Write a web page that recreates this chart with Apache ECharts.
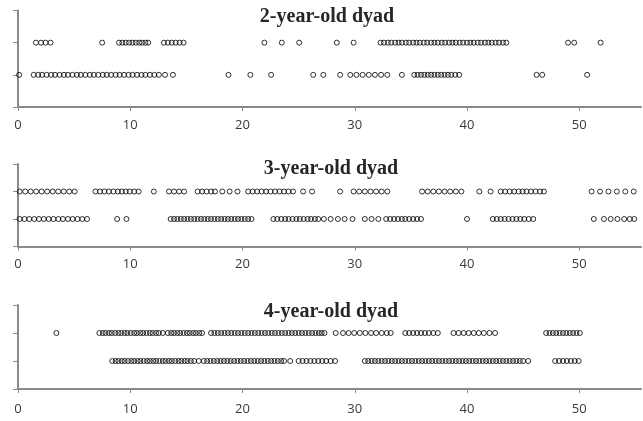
<!DOCTYPE html>
<html>
<head>
<meta charset="utf-8">
<script src="https://cdn.jsdelivr.net/npm/echarts@6/dist/echarts.min.js"></script>
<style>
html,body{margin:0;padding:0;background:#fff;}
#chart{width:643px;height:421px;}
</style>
</head>
<body>
<div id="chart"></div>
<script>
// Panel titles
const titles = ['2-year-old dyad', '3-year-old dyad', '4-year-old dyad'];
// X tick labels
const xTicks = [0, 10, 20, 30, 40, 50];

// 2-year-old dyad: upper row (y = 2) and lower row (y = 1)
const dyad2Upper = [1.6, 2.05, 2.45, 2.9, 7.5, 9.0, 9.3, 9.6, 9.9, 10.2, 10.5, 10.8, 11.05, 11.35, 11.6,
  13.0, 13.35, 13.7, 14.05, 14.4, 14.75, 21.95, 23.5, 25.05, 28.4, 29.9,
  32.3, 32.6, 32.95, 33.25, 33.6, 33.9, 34.2, 34.55, 34.85, 35.2, 35.5, 35.8, 36.15, 36.45, 36.8, 37.1,
  37.4, 37.75, 38.05, 38.4, 38.7, 39.0, 39.35, 39.65, 40.0, 40.3, 40.6, 40.95, 41.25, 41.6, 41.9, 42.2,
  42.55, 42.85, 43.2, 43.5, 49.0, 49.55, 51.9];
const dyad2Lower = [0.1, 1.4, 1.8, 2.15, 2.55, 2.95, 3.3, 3.7, 4.1, 4.45, 4.85, 5.25, 5.6, 6.0, 6.4, 6.75,
  7.15, 7.55, 7.9, 8.3, 8.7, 9.05, 9.45, 9.85, 10.2, 10.6, 11.0, 11.35, 11.75, 12.15, 12.55, 13.1, 13.8,
  18.75, 20.7, 22.55, 26.3, 27.2, 28.7, 29.6, 30.15, 30.7, 31.25, 31.8, 32.35, 32.9, 34.2,
  35.3, 35.6, 35.9, 36.2, 36.5, 36.8, 37.1, 37.4, 37.7, 38.0, 38.3, 38.6, 38.95, 39.3, 46.2, 46.7, 50.7];

// 3-year-old dyad
const dyad3Upper = [0.15, 0.64, 1.13, 1.62, 2.11, 2.6, 3.09, 3.58, 4.07, 4.56, 5.05,
  6.9, 7.3, 7.7, 8.1, 8.5, 8.9, 9.25, 9.6, 9.95, 10.35, 10.75, 12.1, 13.45, 13.9, 14.35, 14.8,
  16.0, 16.4, 16.8, 17.2, 17.55, 18.2, 18.85, 19.55,
  20.5, 20.9, 21.3, 21.7, 22.1, 22.5, 22.9, 23.3, 23.7, 24.1, 24.5, 25.4, 26.2, 28.7,
  29.9, 30.4, 30.9, 31.4, 31.9, 32.4, 32.9, 36.0, 36.5, 37.0, 37.5, 38.0, 38.5, 39.0, 39.5, 41.1, 42.1,
  43.0, 43.4, 43.8, 44.2, 44.6, 44.95, 45.3, 45.7, 46.1, 46.5, 46.85,
  51.1, 51.85, 52.6, 53.35, 54.1, 54.85];
const dyad3Lower = [0.15, 0.58, 1.0, 1.45, 1.87, 2.3, 2.73, 3.16, 3.6, 4.0, 4.45, 4.87, 5.3, 5.73, 6.15,
  8.83, 9.66,
  13.6, 13.9, 14.2, 14.5, 14.8, 15.1, 15.4, 15.7, 16.0, 16.3, 16.6, 16.9, 17.2, 17.5, 17.8, 18.1, 18.4,
  18.7, 19.0, 19.3, 19.6, 19.9, 20.2, 20.5, 20.8,
  22.75, 23.1, 23.45, 23.8, 24.1, 24.45, 24.8, 25.1, 25.45, 25.8, 26.1, 26.45, 26.75,
  27.25, 27.85, 28.5, 29.1, 29.8, 30.9, 31.5, 32.1,
  32.8, 33.15, 33.5, 33.85, 34.2, 34.5, 34.85, 35.2, 35.55, 35.9, 40.0,
  42.3, 42.65, 43.0, 43.35, 43.7, 44.05, 44.4, 44.75, 45.1, 45.5, 45.9,
  51.3, 52.2, 52.8, 53.4, 54.0, 54.5, 54.9];

// 4-year-old dyad
const dyad4Upper = [3.42,
  7.25, 7.55, 7.8, 8.1, 8.35, 8.65, 8.95, 9.2, 9.5, 9.75, 10.05, 10.35, 10.6, 10.9, 11.15, 11.45, 11.75,
  12.0, 12.3, 12.55, 12.9, 13.35, 13.65, 13.9, 14.2, 14.45, 14.75, 15.05, 15.3, 15.6, 15.85, 16.15, 16.4,
  17.2, 17.5, 17.8, 18.1, 18.4, 18.7, 19.0, 19.3, 19.6, 19.9, 20.2, 20.5, 20.8, 21.1, 21.4, 21.7, 22.0,
  22.3, 22.6, 22.9, 23.2, 23.5, 23.8, 24.1, 24.4, 24.7, 25.0, 25.3, 25.6, 25.9, 26.2, 26.5, 26.8, 27.05, 27.3,
  28.3, 28.95, 29.45, 29.95, 30.45, 30.95, 31.45, 31.9, 32.4, 32.85, 33.2,
  34.5, 34.85, 35.2, 35.55, 35.9, 36.25, 36.6, 37.0, 37.4,
  38.8, 39.25, 39.7, 40.15, 40.6, 41.05, 41.5, 42.0, 42.5,
  47.05, 47.35, 47.65, 47.95, 48.25, 48.55, 48.85, 49.15, 49.45, 49.75, 50.05];
const dyad4Lower = [8.4, 8.7, 8.95, 9.25, 9.5, 9.8, 10.1, 10.35, 10.65, 10.9, 11.2, 11.5, 11.75, 12.05,
  12.3, 12.6, 12.9, 13.15, 13.45, 13.7, 14.0, 14.3, 14.55, 14.85, 15.1, 15.4, 15.7, 16.1,
  16.55, 16.85, 17.15, 17.45, 17.75, 18.05, 18.35, 18.65, 18.95, 19.25, 19.55, 19.85, 20.15, 20.45,
  20.75, 21.05, 21.35, 21.65, 21.95, 22.25, 22.55, 22.85, 23.15, 23.45, 23.7, 24.25,
  25.0, 25.35, 25.7, 26.05, 26.4, 26.75, 27.1, 27.45, 27.85, 28.25,
  30.9, 31.2, 31.5, 31.8, 32.1, 32.4, 32.7, 33.0, 33.3, 33.6, 33.9, 34.2, 34.5, 34.8, 35.1, 35.4, 35.7,
  36.0, 36.3, 36.6, 36.9, 37.2, 37.5, 37.8, 38.1, 38.4, 38.7, 39.0, 39.3, 39.6, 39.9, 40.2, 40.5, 40.8,
  41.1, 41.4, 41.7, 42.0, 42.3, 42.6, 42.9, 43.2, 43.5, 43.8, 44.1, 44.4, 44.7, 45.0, 45.45,
  47.85, 48.2, 48.55, 48.9, 49.25, 49.6, 49.95];

const panels = [
  { upper: dyad2Upper, lower: dyad2Lower, top: 10.5, height: 96.5, titleX: 322, titleY: 2, labelMargin: 12 },
  { upper: dyad3Upper, lower: dyad3Lower, top: 164, height: 82.5, titleX: 326, titleY: 154, labelMargin: 11 },
  { upper: dyad4Upper, lower: dyad4Lower, top: 305, height: 84, titleX: 326, titleY: 297, labelMargin: 14 }
];

const axisColor = '#8a8a8a';
const grids = [], xAxes = [], yAxes = [], series = [], titleOpts = [];
panels.forEach((p, i) => {
  grids.push({ left: 18, width: 623, top: p.top, height: p.height, containLabel: false });
  xAxes.push({
    type: 'value', gridIndex: i, min: 0, max: 55.5, interval: 10,
    axisLine: { show: true, onZero: false, lineStyle: { color: axisColor, width: 2 } },
    axisTick: { show: true, length: 4, customValues: xTicks, lineStyle: { color: axisColor, width: 1 } },
    axisLabel: { customValues: xTicks, margin: p.labelMargin, color: '#3a3a3a', fontSize: 13, fontFamily: 'Open Sans' },
    splitLine: { show: false }
  });
  yAxes.push({
    type: 'value', gridIndex: i, min: 0, max: 3, interval: 1,
    axisLine: { show: true, lineStyle: { color: axisColor, width: 2 } },
    axisTick: { show: true, length: 5, lineStyle: { color: axisColor, width: 1 } },
    axisLabel: { show: false },
    splitLine: { show: false }
  });
  const mk = (arr, y) => ({
    type: 'scatter', xAxisIndex: i, yAxisIndex: i, symbol: 'circle', symbolSize: 5,
    itemStyle: { color: 'rgba(0,0,0,0)', borderColor: '#000', borderWidth: 1 },
    silent: true, animation: false,
    data: arr.map(v => [v, y])
  });
  series.push(mk(p.upper, 2), mk(p.lower, 1));
  titleOpts.push({
    text: titles[i], left: p.titleX, top: p.titleY, textAlign: 'center',
    textStyle: { fontFamily: 'Liberation Serif', fontWeight: 'bold', fontSize: 20, color: '#262626' }
  });
});

const chart = echarts.init(document.getElementById('chart'), null, { renderer: 'canvas' });
chart.setOption({
  animation: false,
  backgroundColor: '#fff',
  title: titleOpts,
  grid: grids, xAxis: xAxes, yAxis: yAxes, series: series
});
</script>
</body>
</html>
